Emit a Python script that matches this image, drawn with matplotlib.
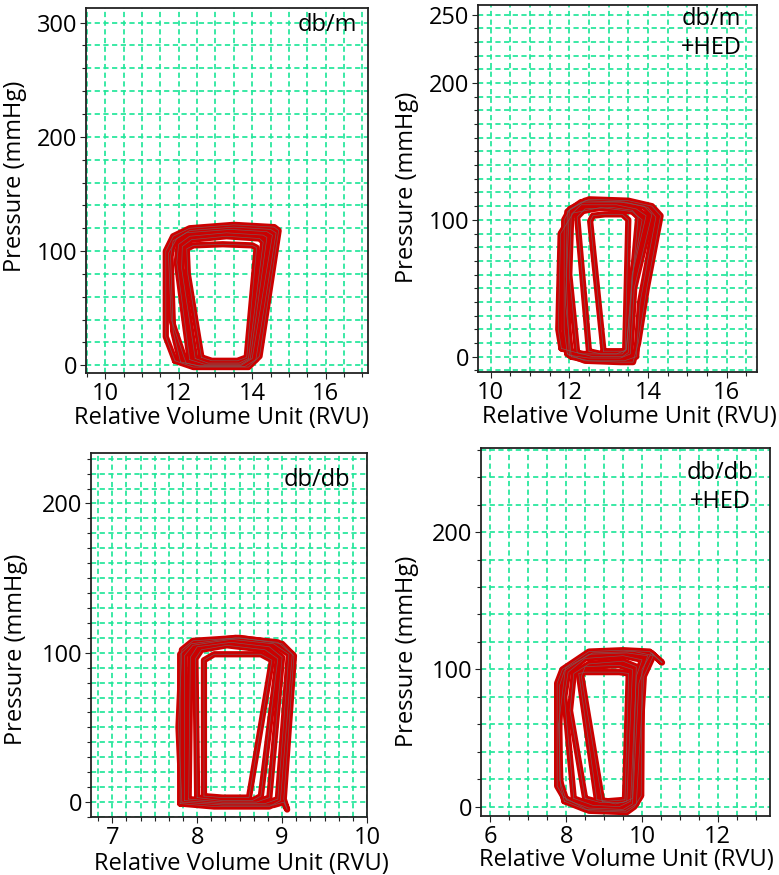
import matplotlib
matplotlib.use("Agg")
import matplotlib.pyplot as plt
from matplotlib.ticker import MultipleLocator, FixedLocator

plt.rcParams['font.family'] = ['Open Sans', 'DejaVu Sans']

# %% loop vertices (volume in RVU, pressure in mmHg)
# db/m
dbm_vol = [
    [11.90, 12.40, 13.90, 14.20, 14.72, 14.60, 13.50, 12.30, 11.85, 11.65, 11.65, 11.90],
    [12.05, 12.50, 13.70, 14.00, 14.55, 14.40, 13.40, 12.20, 11.85, 11.78, 11.85, 12.05],
    [12.20, 12.60, 13.80, 14.10, 14.65, 14.50, 13.50, 12.30, 11.95, 11.72, 11.80, 12.20],
    [12.30, 12.70, 13.70, 13.95, 14.40, 14.30, 13.30, 12.30, 12.00, 11.95, 12.30],
    [12.45, 12.80, 13.65, 13.90, 14.30, 14.20, 13.30, 12.35, 12.10, 12.08, 12.45],
    [12.62, 12.90, 13.60, 13.85, 14.12, 14.00, 13.20, 12.40, 12.22, 12.25, 12.62],
]
dbm_pres = [
    [4, -1.5, -1.5, 8, 118, 121, 123, 120, 113, 100, 25, 4],
    [3, 0, 0, 6, 114, 117, 119, 116, 109, 95, 30, 3],
    [2, -1, -1, 5, 116, 119, 121, 118, 111, 98, 40, 2],
    [5, 1, 1, 6, 112, 114, 116, 113, 106, 90, 5],
    [6, 2, 2, 6, 108, 111, 113, 110, 104, 85, 6],
    [7, 4, 4, 7, 103, 105, 106, 105, 102, 80, 7],
]

# db/m + HED
dbm_hed_vol = [
    [11.95, 12.40, 13.30, 13.62, 13.75, 13.97, 14.32, 14.10, 13.50, 12.50, 12.02, 11.87, 11.87, 11.95],
    [12.00, 12.50, 13.30, 13.55, 13.65, 14.10, 13.90, 13.30, 12.30, 11.95, 11.92, 12.00],
    [12.05, 12.50, 13.40, 13.70, 13.80, 14.20, 14.00, 13.40, 12.40, 12.00, 11.90, 12.05],
    [12.20, 12.60, 13.35, 13.50, 13.60, 13.95, 13.70, 13.20, 12.30, 12.05, 12.00, 12.20],
    [12.50, 12.80, 13.35, 13.45, 13.75, 13.60, 13.10, 12.40, 12.20, 12.50],
    [12.87, 13.10, 13.42, 13.50, 13.35, 12.90, 12.60, 12.53, 12.87],
    [11.80, 12.30, 13.20, 13.45, 13.60, 13.85, 13.60, 12.80, 12.10, 11.78, 11.72, 11.80],
]
dbm_hed_pres = [
    [2, -3, -4, -4, 10, 50, 103, 110, 114, 115, 108, 100, 20, 2],
    [1, -1, -1, 2, 50, 104, 110, 113, 113, 106, 60, 1],
    [0, -3, -3, 0, 40, 102, 109, 113, 114, 107, 40, 0],
    [3, 0, 0, 3, 60, 103, 108, 111, 111, 104, 60, 3],
    [4, 2, 2, 6, 102, 107, 109, 108, 102, 4],
    [4, 4, 4, 100, 104, 104, 103, 99, 4],
    [6, 2, 2, 5, 60, 100, 106, 109, 105, 90, 20, 6],
]

# db/db
dbdb_vol = [
    [7.82, 8.30, 8.90, 9.02, 9.06, 9.02, 9.14, 9.00, 8.50, 7.95, 7.82, 7.78, 7.82],
    [7.85, 8.30, 8.80, 8.95, 9.08, 8.90, 8.40, 7.95, 7.85, 7.85],
    [7.80, 8.20, 8.85, 8.98, 9.12, 8.95, 8.45, 7.93, 7.80, 7.80],
    [7.90, 8.30, 8.70, 8.85, 9.00, 8.85, 8.40, 8.00, 7.92, 7.90],
    [8.00, 8.30, 8.65, 8.75, 8.95, 8.80, 8.35, 8.05, 7.98, 8.00],
    [8.08, 8.30, 8.61, 8.88, 8.75, 8.20, 8.08, 8.08],
]
dbdb_pres = [
    [0, -2, -2, 0, -5, 2, 98, 106, 110, 108, 102, 50, 0],
    [1, -1, -1, 2, 99, 106, 109, 105, 98, 1],
    [-1, -3, -3, 1, 99, 107, 110, 106, 99, -1],
    [2, 0, 0, 3, 97, 104, 107, 104, 97, 2],
    [3, 1, 1, 4, 96, 102, 105, 102, 96, 3],
    [4, 3, 3, 95, 99, 99, 95, 4],
]

# db/db + HED
dbdb_hed_vol = [
    [7.93, 8.60, 9.60, 9.80, 9.98, 10.00, 10.25, 10.53, 10.20, 9.50, 8.60, 7.90, 7.76, 7.76, 7.93],
    [7.95, 8.50, 9.55, 9.85, 10.05, 10.30, 9.80, 8.70, 7.98, 7.80, 7.85, 7.95],
    [8.00, 8.60, 9.50, 9.75, 9.92, 10.15, 9.60, 8.60, 7.95, 7.82, 7.82, 8.00],
    [8.20, 8.70, 9.40, 9.70, 9.85, 10.00, 9.50, 8.50, 8.05, 7.95, 8.20],
    [8.50, 8.90, 9.50, 9.75, 9.85, 9.50, 8.60, 8.20, 8.10, 8.50],
    [8.95, 9.30, 9.60, 9.75, 9.40, 8.50, 8.40, 8.95],
    [8.81, 9.10, 9.55, 9.65, 9.40, 8.50, 8.33, 8.81],
]
dbdb_hed_pres = [
    [7, -3, -4, 0, 8, 100, 112, 105, 113, 114, 113, 100, 90, 15, 7],
    [4, -2, -3, 2, 95, 110, 113, 112, 101, 60, 15, 4],
    [5, -1, -2, 2, 90, 110, 112, 111, 99, 88, 20, 5],
    [6, 1, 0, 4, 95, 107, 110, 108, 98, 80, 6],
    [6, 3, 3, 6, 102, 106, 104, 97, 70, 6],
    [4, 2, 4, 100, 103, 102, 95, 4],
    [5, 4, 5, 97, 98, 98, 97, 5],
]

# %% figure
W, H = 779, 875
fig = plt.figure(figsize=(W / 100, H / 100), dpi=100)

grid_col = '#22e69a'
loop_red = '#cc0000'
edge_col = '#7a5a5a'
fs = 17

panels = [
    dict(box=(86, 8, 282, 365), vol=dbm_vol, pres=dbm_pres,
         xlim=(9.48, 17.15), ylim=(-6.7, 312.8), xt=[10, 12, 14, 16], xm=0.5,
         yt=[0, 100, 200, 300], ym=20, tag='db/m', tpos=(0.855, 0.985),
         xl=(0.479, -0.123), yl=(-0.252, 0.54)),
    dict(box=(478, 5, 279, 367), vol=dbm_hed_vol, pres=dbm_hed_pres,
         xlim=(9.68, 16.77), ylim=(-11.2, 257), xt=[10, 12, 14, 16], xm=0.5,
         yt=[0, 100, 200, 250], ym=10, tag='db/m\n+HED', tpos=(0.838, 0.995),
         xl=(0.543, -0.123), yl=(-0.254, 0.504)),
    dict(box=(91, 453, 276, 364), vol=dbdb_vol, pres=dbdb_pres,
         xlim=(6.75, 10.0), ylim=(-10, 233.8), xt=[7, 8, 9, 10], xm=1 / 6,
         yt=[0, 100, 200], ym=10, tag='db/db', tpos=(0.818, 0.96),
         xl=(0.546, -0.129), yl=(-0.272, 0.46)),
    dict(box=(481, 448, 289, 368), vol=dbdb_hed_vol, pres=dbdb_hed_pres,
         xlim=(5.75, 13.38), ylim=(-6.8, 261.3), xt=[6, 8, 10, 12], xm=0.5,
         yt=[0, 100, 200], ym=20, tag='db/db\n+HED', tpos=(0.827, 0.965),
         xl=(0.504, -0.12), yl=(-0.256, 0.446)),
]

for p in panels:
    x0, y0, w, h = p['box']
    ax = fig.add_axes([x0 / W, 1 - (y0 + h) / H, w / W, h / H])
    ax.set_xlim(*p['xlim'])
    ax.set_ylim(*p['ylim'])

    # thick red traces first, then the thin grey edges on top
    for v, pr in zip(p['vol'], p['pres']):
        ax.plot(v, pr, color=loop_red, lw=4.5, solid_joinstyle='round',
                solid_capstyle='round', zorder=3)
    for v, pr in zip(p['vol'], p['pres']):
        ax.plot(v, pr, color=edge_col, lw=0.5, alpha=0.9, zorder=4)

    ax.xaxis.set_major_locator(FixedLocator(p['xt']))
    ax.xaxis.set_minor_locator(MultipleLocator(p['xm']))
    ax.yaxis.set_major_locator(FixedLocator(p['yt']))
    ax.yaxis.set_minor_locator(MultipleLocator(p['ym']))
    ax.grid(which='both', color=grid_col, linestyle=(0, (3, 2)), lw=1.25, zorder=1)
    ax.set_axisbelow(True)

    ax.tick_params(which='both', direction='out', length=3, width=0.8, color='#222222',
                   labelsize=fs, pad=2.5)
    ax.tick_params(which='major', length=4)

    for s in ax.spines.values():
        s.set_linewidth(1.3)
        s.set_color('#222222')

    ax.set_xlabel('Relative Volume Unit (RVU)', fontsize=fs)
    ax.set_ylabel('Pressure (mmHg)', fontsize=fs)
    ax.xaxis.set_label_coords(*p['xl'])
    ax.xaxis.label.set_va('center')
    ax.yaxis.set_label_coords(*p['yl'])
    ax.yaxis.label.set_va('center')

    ax.text(p['tpos'][0], p['tpos'][1], p['tag'], transform=ax.transAxes,
            ha='center', va='top', fontsize=fs, linespacing=1.3, zorder=5)

fig.savefig('out.png', dpi=100)
